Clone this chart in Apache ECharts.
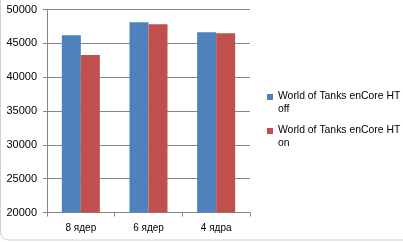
<!DOCTYPE html>
<html><head><meta charset="utf-8">
<script src="https://cdn.jsdelivr.net/npm/echarts@6/dist/echarts.min.js"></script>
<style>html,body{margin:0;padding:0;background:#fff}#c{width:403px;height:242px}</style>
</head><body><div id="c"></div>
<script>
const categories = ['8 ядер', '6 ядер', '4 ядра'];
const seriesNames = ['World of Tanks enCore HT off', 'World of Tanks enCore HT on'];
const valuesOff = [46200, 48130, 46650];
const valuesOn = [43270, 47830, 46500];
const yMin = 20000, yMax = 50000, yStep = 5000;

const chart = echarts.init(document.getElementById('c'), null, {renderer: 'canvas'});
const font = 'Liberation Sans, Arial, sans-serif';
chart.setOption({
  animation: false,
  backgroundColor: '#fff',
  graphic: [{
    type: 'rect', shape: {x: 0.5, y: -8, width: 410, height: 248, r: 8},
    style: {fill: 'none', stroke: '#d0d0d0', lineWidth: 1}, silent: true, z: -1
  }],
  grid: {left: 47, right: 153, top: 9.5, bottom: 29.5, containLabel: false},
  legend: {
    orient: 'vertical', left: 267, top: 89.5, padding: 0, itemWidth: 6, itemHeight: 18, itemGap: 8,
    icon: 'path://M0,0h7v7h-7z M0,20h0.01v0.01h-0.01z',
    formatter: function (n) { return n.replace(' HT ', ' HT\n'); },
    textStyle: {fontFamily: font, fontSize: 10.4, color: '#000', lineHeight: 13},
    data: seriesNames
  },
  xAxis: {
    type: 'category', data: categories,
    axisLine: {lineStyle: {color: '#868686'}},
    axisTick: {show: true, length: 4, lineStyle: {color: '#868686'}},
    axisLabel: {fontFamily: font, fontSize: 10, color: '#000', margin: 11}
  },
  yAxis: {
    type: 'value', min: yMin, max: yMax, interval: yStep,
    axisLine: {show: true, lineStyle: {color: '#868686'}},
    axisTick: {show: true, length: 4, lineStyle: {color: '#868686'}},
    splitLine: {lineStyle: {color: '#868686'}},
    axisLabel: {fontFamily: font, fontSize: 11, color: '#000', margin: 10, formatter: function (v) { return String(v); }}
  },
  series: [
    {name: seriesNames[0], type: 'bar', data: valuesOff, barWidth: 19, barGap: '0%', itemStyle: {color: '#4F81BD'}},
    {name: seriesNames[1], type: 'bar', data: valuesOn, barWidth: 19, barGap: '0%', itemStyle: {color: '#C0504D'}}
  ]
});
</script></body></html>
